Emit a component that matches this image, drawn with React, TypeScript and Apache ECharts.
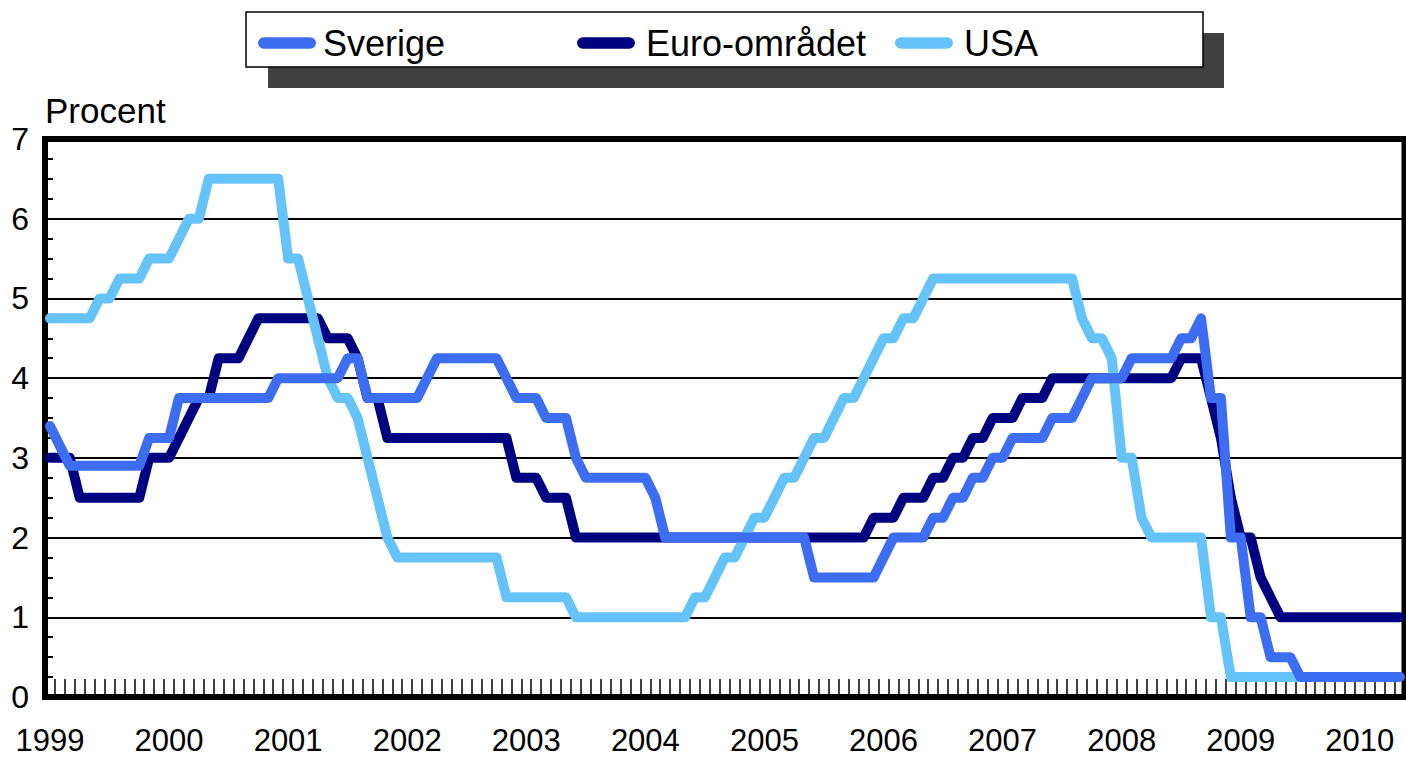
import React, { useEffect, useRef } from 'react';
import * as echarts from 'echarts';

const FONT = '"Liberation Sans", Arial, Helvetica, sans-serif';

const years = ['1999', '2000', '2001', '2002', '2003', '2004', '2005', '2006', '2007', '2008', '2009', '2010'];
const monthCodes = ['01', '02', '03', '04', '05', '06', '07', '08', '09', '10', '11', '12'];
const monthsInLastYear = 5;

const categories: string[] = years.flatMap((y, i) =>
  monthCodes.slice(0, i === years.length - 1 ? monthsInLastYear : 12).map((m) => `${y}-${m}`)
);

// Month-end policy rates, per cent (Jan 1999 - May 2010)
const sverige = [
  3.40, 3.15, 2.90, 2.90, 2.90, 2.90, 2.90, 2.90, 2.90, 2.90, 3.25, 3.25,
  3.25, 3.75, 3.75, 3.75, 3.75, 3.75, 3.75, 3.75, 3.75, 3.75, 3.75, 4.00,
  4.00, 4.00, 4.00, 4.00, 4.00, 4.00, 4.25, 4.25, 3.75, 3.75, 3.75, 3.75,
  3.75, 3.75, 4.00, 4.25, 4.25, 4.25, 4.25, 4.25, 4.25, 4.25, 4.00, 3.75,
  3.75, 3.75, 3.50, 3.50, 3.50, 3.00, 2.75, 2.75, 2.75, 2.75, 2.75, 2.75,
  2.75, 2.50, 2.00, 2.00, 2.00, 2.00, 2.00, 2.00, 2.00, 2.00, 2.00, 2.00,
  2.00, 2.00, 2.00, 2.00, 2.00, 1.50, 1.50, 1.50, 1.50, 1.50, 1.50, 1.50,
  1.75, 2.00, 2.00, 2.00, 2.00, 2.25, 2.25, 2.50, 2.50, 2.75, 2.75, 3.00,
  3.00, 3.25, 3.25, 3.25, 3.25, 3.50, 3.50, 3.50, 3.75, 4.00, 4.00, 4.00,
  4.00, 4.25, 4.25, 4.25, 4.25, 4.25, 4.50, 4.50, 4.75, 3.75, 3.75, 2.00,
  2.00, 1.00, 1.00, 0.50, 0.50, 0.50, 0.25, 0.25, 0.25, 0.25, 0.25, 0.25,
  0.25, 0.25, 0.25, 0.25, 0.25,
];

const euroOmradet = [
  3.00, 3.00, 3.00, 2.50, 2.50, 2.50, 2.50, 2.50, 2.50, 2.50, 3.00, 3.00,
  3.00, 3.25, 3.50, 3.75, 3.75, 4.25, 4.25, 4.25, 4.50, 4.75, 4.75, 4.75,
  4.75, 4.75, 4.75, 4.75, 4.50, 4.50, 4.50, 4.25, 3.75, 3.75, 3.25, 3.25,
  3.25, 3.25, 3.25, 3.25, 3.25, 3.25, 3.25, 3.25, 3.25, 3.25, 3.25, 2.75,
  2.75, 2.75, 2.50, 2.50, 2.50, 2.00, 2.00, 2.00, 2.00, 2.00, 2.00, 2.00,
  2.00, 2.00, 2.00, 2.00, 2.00, 2.00, 2.00, 2.00, 2.00, 2.00, 2.00, 2.00,
  2.00, 2.00, 2.00, 2.00, 2.00, 2.00, 2.00, 2.00, 2.00, 2.00, 2.00, 2.25,
  2.25, 2.25, 2.50, 2.50, 2.50, 2.75, 2.75, 3.00, 3.00, 3.25, 3.25, 3.50,
  3.50, 3.50, 3.75, 3.75, 3.75, 4.00, 4.00, 4.00, 4.00, 4.00, 4.00, 4.00,
  4.00, 4.00, 4.00, 4.00, 4.00, 4.00, 4.25, 4.25, 4.25, 3.75, 3.25, 2.50,
  2.00, 2.00, 1.50, 1.25, 1.00, 1.00, 1.00, 1.00, 1.00, 1.00, 1.00, 1.00,
  1.00, 1.00, 1.00, 1.00, 1.00,
];

const usa = [
  4.75, 4.75, 4.75, 4.75, 4.75, 5.00, 5.00, 5.25, 5.25, 5.25, 5.50, 5.50,
  5.50, 5.75, 6.00, 6.00, 6.50, 6.50, 6.50, 6.50, 6.50, 6.50, 6.50, 6.50,
  5.50, 5.50, 5.00, 4.50, 4.00, 3.75, 3.75, 3.50, 3.00, 2.50, 2.00, 1.75,
  1.75, 1.75, 1.75, 1.75, 1.75, 1.75, 1.75, 1.75, 1.75, 1.75, 1.25, 1.25,
  1.25, 1.25, 1.25, 1.25, 1.25, 1.00, 1.00, 1.00, 1.00, 1.00, 1.00, 1.00,
  1.00, 1.00, 1.00, 1.00, 1.00, 1.25, 1.25, 1.50, 1.75, 1.75, 2.00, 2.25,
  2.25, 2.50, 2.75, 2.75, 3.00, 3.25, 3.25, 3.50, 3.75, 3.75, 4.00, 4.25,
  4.50, 4.50, 4.75, 4.75, 5.00, 5.25, 5.25, 5.25, 5.25, 5.25, 5.25, 5.25,
  5.25, 5.25, 5.25, 5.25, 5.25, 5.25, 5.25, 5.25, 4.75, 4.50, 4.50, 4.25,
  3.00, 3.00, 2.25, 2.00, 2.00, 2.00, 2.00, 2.00, 2.00, 1.00, 1.00, 0.25,
  0.25, 0.25, 0.25, 0.25, 0.25, 0.25, 0.25, 0.25, 0.25, 0.25, 0.25, 0.25,
  0.25, 0.25, 0.25, 0.25, 0.25,
];

const seriesNames = ['Sverige', 'Euro-området', 'USA'];
const seriesColors = ['#3D6DF2', '#00037F', '#66C3FA'];

const PILL = 'path://M6,0 L54,0 A6,6 0 0 1 54,12 L6,12 A6,6 0 0 1 6,0 Z';

export default function App() {
  const ref = useRef<HTMLDivElement>(null);

  useEffect(() => {
    if (!ref.current) return;
    const chart = echarts.init(ref.current, undefined, { renderer: 'svg' });

    const legendLefts = [258, 577, 895];
    const legends = seriesNames.map((name, i) => ({
      data: [name],
      left: legendLefts[i],
      top: 25,
      padding: 0,
      z: 10,
      icon: PILL,
      itemWidth: 58,
      itemHeight: 12,
      itemGap: 0,
      itemStyle: { borderWidth: 0 },
      selectedMode: false,
      textStyle: {
        fontSize: 36,
        color: '#000',
        fontFamily: FONT,
        padding: [0, 0, 0, i === 0 ? 2 : 6],
      },
    }));

    const mkSeries = (idx: number, data: number[], z: number) => ({
      name: seriesNames[idx],
      type: 'line',
      data,
      symbol: 'none',
      z,
      itemStyle: { color: seriesColors[idx] },
      lineStyle: { color: seriesColors[idx], width: 10, cap: 'round', join: 'round' },
      emphasis: { disabled: true },
    });

    const option: any = {
      animation: false,
      backgroundColor: '#fff',
      textStyle: { fontFamily: FONT },
      graphic: [
        {
          type: 'rect',
          z: 0,
          shape: { x: 268, y: 33, width: 956, height: 55 },
          style: { fill: '#404040' },
        },
        {
          type: 'rect',
          z: 1,
          shape: { x: 246, y: 12, width: 957, height: 55 },
          style: { fill: '#fff', stroke: '#000', lineWidth: 1.5 },
        },
      ],
      legend: legends,
      grid: {
        left: 45,
        right: 1.5,
        top: 139,
        bottom: 61,
        show: true,
        borderColor: '#000',
        borderWidth: 6,
        backgroundColor: 'transparent',
      },
      xAxis: [
        {
          type: 'category',
          data: categories,
          boundaryGap: true,
          position: 'bottom',
          axisLine: { onZero: false, lineStyle: { color: '#000', width: 5 } },
          axisTick: {
            show: true,
            inside: true,
            length: 18,
            interval: 0,
            lineStyle: { color: '#000', width: 1.5 },
          },
          axisLabel: {
            interval: (index: number) => index % 12 === 0,
            formatter: (v: string) => v.slice(0, 4),
            fontSize: 31,
            color: '#000',
            margin: 28,
            fontFamily: FONT,
          },
          splitLine: { show: false },
        },
        {
          type: 'category',
          data: categories,
          boundaryGap: true,
          position: 'top',
          axisLine: { show: true, onZero: false, lineStyle: { color: '#000', width: 6 } },
          axisTick: { show: false },
          axisLabel: { show: false },
          splitLine: { show: false },
        },
      ],
      yAxis: {
        type: 'value',
        min: 0,
        max: 7,
        interval: 1,
        position: 'left',
        name: 'Procent',
        nameLocation: 'end',
        nameGap: 11,
        nameTextStyle: {
          fontSize: 35,
          color: '#000',
          align: 'left',
          verticalAlign: 'bottom',
          fontFamily: FONT,
        },
        axisLine: { show: true, onZero: false, lineStyle: { color: '#000', width: 6 } },
        axisTick: { show: true, inside: true, length: 8, lineStyle: { color: '#000', width: 2 } },
        minorTick: { show: true, splitNumber: 4, length: 8, lineStyle: { color: '#000', width: 2 } },
        splitLine: { show: true, lineStyle: { color: '#000', width: 2 } },
        axisLabel: { fontSize: 32, color: '#000', margin: 16, fontFamily: FONT },
      },
      series: [
        mkSeries(1, euroOmradet, 3),
        mkSeries(2, usa, 4),
        mkSeries(0, sverige, 5),
      ],
    };

    chart.setOption(option);
    return () => {
      chart.dispose();
    };
  }, []);

  return (
    <div
      ref={ref}
      style={{ position: 'fixed', left: 0, top: 0, width: 1406, height: 758, background: '#fff' }}
    />
  );
}
